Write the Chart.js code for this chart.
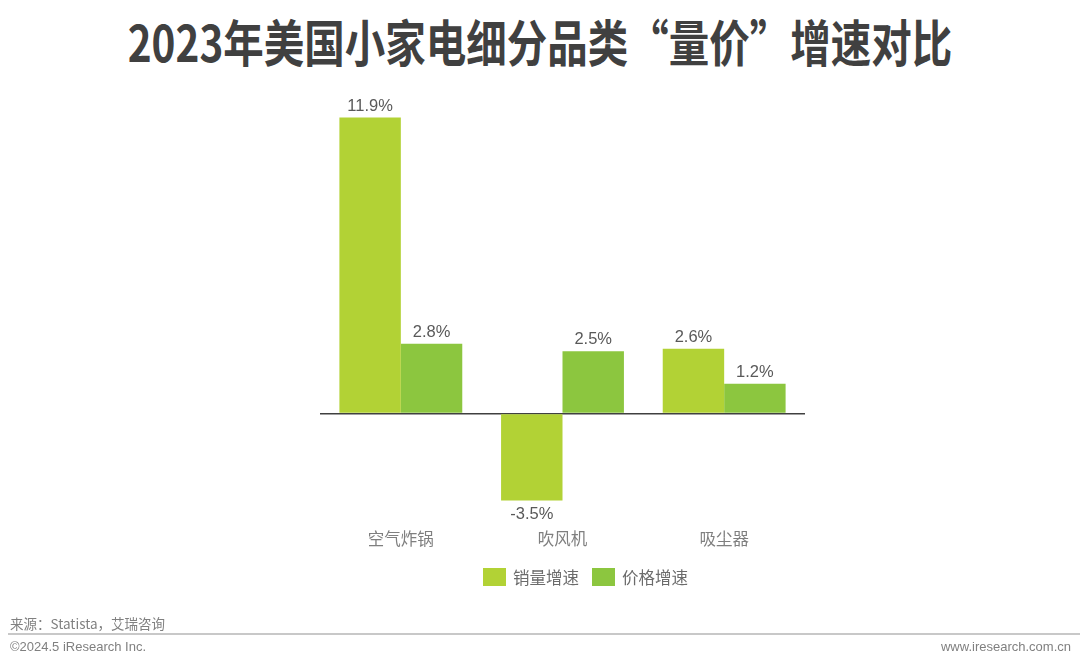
<!DOCTYPE html>
<html><head><meta charset="utf-8">
<script src="https://cdn.jsdelivr.net/npm/chart.js@4.4.0/dist/chart.umd.min.js"></script>
<style>
html,body{margin:0;padding:0;background:#fff;width:1080px;height:662px;overflow:hidden;font-family:"Noto Sans CJK SC","Liberation Sans",sans-serif;}
#wrap{position:absolute;left:0;top:0;width:1080px;height:662px;}
#title{position:absolute;left:0;top:10px;width:1080px;text-align:center;font-size:50px;font-weight:bold;color:#404040;line-height:60px;white-space:nowrap;}
#title span{display:inline-block;transform:scaleX(0.81);}
.ft{position:absolute;font-size:13px;color:#808080;font-family:"Noto Sans CJK SC","Liberation Sans",sans-serif;line-height:16px;white-space:nowrap;}
#line{position:absolute;left:8px;top:633px;width:1072px;height:2px;background:#c8c8c8;}
</style></head>
<body>
<div id="title"><span>2023年美国小家电细分品类“量价”增速对比</span></div>
<div id="wrap"><canvas id="c" width="1080" height="662"></canvas></div>
<div class="ft" style="left:10px;top:615px;font-size:13.5px;">来源：Statista，艾瑞咨询</div>
<div id="line"></div>
<div class="ft" style="left:10px;top:639px;font-family:'Liberation Sans',sans-serif;">©2024.5 iResearch Inc.</div>
<div class="ft" style="right:9px;top:639px;font-family:'Liberation Sans',sans-serif;">www.iresearch.com.cn</div>
<script>
const categories = ["空气炸锅", "吹风机", "吸尘器"];
const seriesNames = ["销量增速", "价格增速"];
const volumeGrowth = [11.9, -3.5, 2.6];
const priceGrowth = [2.8, 2.5, 1.2];
const colors = ["#b2d235", "#8cc63f"];

const valueLabels = {
  id: 'valueLabels',
  afterDatasetsDraw(chart) {
    const ctx = chart.ctx;
    ctx.save();
    ctx.font = '16.5px "Liberation Sans", Arial, sans-serif';
    ctx.fillStyle = '#595959';
    ctx.textAlign = 'center';
    ctx.textBaseline = 'alphabetic';
    chart.data.datasets.forEach((ds, i) => {
      const meta = chart.getDatasetMeta(i);
      meta.data.forEach((bar, j) => {
        const v = ds.data[j];
        const txt = v.toFixed(1) + '%';
        if (v >= 0) ctx.fillText(txt, bar.x, bar.y - 7);
        else ctx.fillText(txt, bar.x, bar.y + 18);
      });
    });
    ctx.restore();
  }
};

const customLegend = {
  id: 'customLegend',
  afterDraw(chart) {
    const ctx = chart.ctx;
    ctx.save();
    ctx.font = '16.5px "Noto Sans CJK SC", sans-serif';
    ctx.textBaseline = 'middle';
    ctx.textAlign = 'left';
    let x = 483;
    const yMid = 577;
    chart.data.datasets.forEach((ds) => {
      ctx.fillStyle = ds.backgroundColor;
      ctx.fillRect(x, yMid - 9, 23, 18);
      x += 23 + 7;
      ctx.fillStyle = '#6b6b6b';
      ctx.fillText(ds.label, x, yMid + 1);
      x += ctx.measureText(ds.label).width + 13;
    });
    ctx.restore();
  }
};

new Chart(document.getElementById('c'), {
  type: 'bar',
  data: {
    labels: categories,
    datasets: [
      { label: seriesNames[0], data: volumeGrowth, backgroundColor: colors[0] },
      { label: seriesNames[1], data: priceGrowth, backgroundColor: colors[1] }
    ]
  },
  options: {
    responsive: false,
    animation: false,
    layout: { padding: { left: 320, right: 275, top: 102.6, bottom: 109 } },
    scales: {
      x: {
        afterFit(s) { s.height = 40; },
        grid: { display: false, drawTicks: false },
        border: { display: false },
        ticks: { color: '#7f7f7f', font: { size: 16.5, family: '"Noto Sans CJK SC", sans-serif' }, padding: 16 }
      },
      y: {
        min: -4, max: 12.5,
        afterFit(s) { s.width = 0; },
        ticks: { display: false, stepSize: 0.5 },
        border: { display: false },
        grid: {
          drawTicks: false,
          color: c => c.tick && c.tick.value === 0 ? '#404040' : 'rgba(0,0,0,0)',
          lineWidth: 1.5
        }
      }
    },
    datasets: { bar: { categoryPercentage: 0.76, barPercentage: 1 } },
    plugins: {
      title: { display: false },
      tooltip: { enabled: false },
      legend: { display: false }
    }
  },
  plugins: [valueLabels, customLegend]
});
</script>
</body></html>
